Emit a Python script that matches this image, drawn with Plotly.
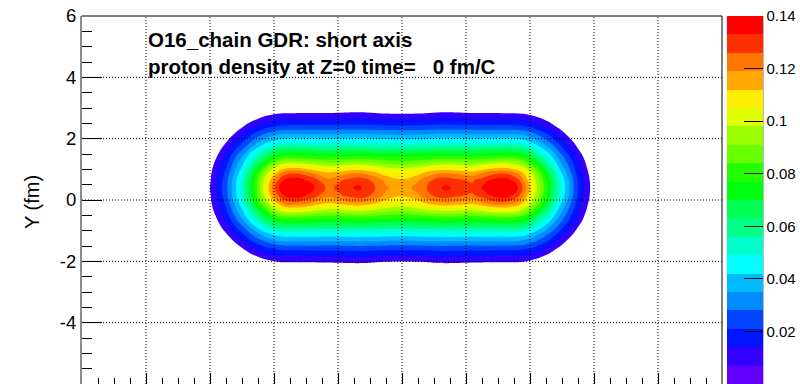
import plotly.graph_objects as go

# ---------------- data ----------------
# x positions (fm) of the sampled columns
X = [-7.0, -6.5, -6.0, -5.5, -5.0, -4.5, -4.0, -3.7, -3.35, -3.0, -2.65, -2.3,
     -1.95, -1.65, -1.35, -1.0, -0.5, 0.0, 0.5, 1.0, 1.35, 1.65, 1.95, 2.2,
     2.5, 2.8, 3.1, 3.4, 3.7, 4.0, 4.5, 5.0, 5.5, 6.0, 6.5, 7.0]
# y positions (fm) of the sampled rows
Y = [-2.6, -2.1, -1.6, -1.1, -0.6, -0.1, 0.15, 0.4, 0.65, 0.9, 1.4, 1.9, 2.4, 2.9, 3.4]

# proton density read row by row (distance from chain axis y=0.4)
ROW_D0 = [-0.02, -0.008, 0.0072, 0.026, 0.051, 0.086, 0.125, 0.140, 0.146, 0.140, 0.131, 0.124,
          0.128, 0.132, 0.1345, 0.129, 0.120, 0.116, 0.121, 0.130, 0.1345, 0.132, 0.129, 0.128,
          0.134, 0.141, 0.146, 0.142, 0.130, 0.112, 0.080, 0.047, 0.021, 0.0025, -0.012, -0.02]
ROW_D025 = [-0.02, -0.009, 0.006, 0.025, 0.0505, 0.085, 0.120, 0.133, 0.137, 0.133, 0.127, 0.121,
            0.125, 0.128, 0.130, 0.126, 0.117, 0.113, 0.118, 0.127, 0.130, 0.128, 0.126, 0.125,
            0.129, 0.134, 0.137, 0.134, 0.125, 0.108, 0.078, 0.046, 0.0205, 0.002, -0.012, -0.02]
ROW_D05 = [-0.02, -0.011, 0.0052, 0.0228, 0.0463, 0.079, 0.108, 0.121, 0.124, 0.121, 0.116, 0.112,
           0.114, 0.117, 0.118, 0.115, 0.108, 0.105, 0.109, 0.116, 0.118, 0.117, 0.115, 0.114,
           0.118, 0.122, 0.124, 0.122, 0.115, 0.101, 0.073, 0.041, 0.018, 0.0008, -0.013, -0.02]
ROW_D1 = [-0.02, -0.015, 0.0003, 0.0162, 0.035, 0.0561, 0.075, 0.0806, 0.081, 0.0802, 0.079, 0.078,
          0.0786, 0.0791, 0.0795, 0.0787, 0.0775, 0.077, 0.0777, 0.0789, 0.0795, 0.0791, 0.0787, 0.0786,
          0.0794, 0.0803, 0.081, 0.081, 0.0788, 0.0711, 0.0499, 0.0297, 0.0122, -0.0038, -0.019, -0.02]
ROW_D15 = [-0.02, -0.02, -0.0072, 0.0065, 0.0199, 0.034, 0.0441, 0.0467, 0.047, 0.047, 0.0468, 0.0465,
           0.0467, 0.0469, 0.047, 0.0468, 0.0463, 0.046, 0.0463, 0.0468, 0.047, 0.0469, 0.0467, 0.0466,
           0.0468, 0.047, 0.047, 0.047, 0.0459, 0.0421, 0.0305, 0.0166, 0.0029, -0.011, -0.02, -0.02]
ROW_D2 = [-0.02, -0.02, -0.017, -0.0047, 0.006, 0.0151, 0.0208, 0.0224, 0.0225, 0.0226, 0.0226, 0.0226,
          0.0228, 0.023, 0.0231, 0.0228, 0.0222, 0.022, 0.0222, 0.0228, 0.0231, 0.023, 0.0228, 0.0226,
          0.0226, 0.0226, 0.0225, 0.0225, 0.0219, 0.0197, 0.0132, 0.0033, -0.0077, -0.02, -0.02, -0.02]
ROW_D25 = [-0.02, -0.02, -0.02, -0.017, -0.008, -0.001, 0.0033, 0.0044, 0.0045, 0.0046, 0.0047, 0.0048,
           0.0052, 0.0055, 0.0056, 0.0052, 0.0040, 0.0035, 0.0040, 0.0052, 0.0056, 0.0055, 0.0052, 0.0048,
           0.0047, 0.0046, 0.0045, 0.0045, 0.0041, 0.0025, -0.0026, -0.0103, -0.019, -0.02, -0.02, -0.02]
ROW_D3 = [-0.02, -0.02, -0.02, -0.02, -0.02, -0.018, -0.014, -0.012, -0.012, -0.012, -0.012, -0.012,
          -0.012, -0.012, -0.012, -0.012, -0.012, -0.012, -0.012, -0.012, -0.012, -0.012, -0.012, -0.012,
          -0.012, -0.012, -0.012, -0.012, -0.012, -0.014, -0.018, -0.02, -0.02, -0.02, -0.02, -0.02]

Z = [ROW_D3, ROW_D25, ROW_D2, ROW_D15, ROW_D1, ROW_D05, ROW_D025, ROW_D0,
     ROW_D025, ROW_D05, ROW_D1, ROW_D15, ROW_D2, ROW_D25, ROW_D3]

# colour levels (20 bands from 0 to 0.14) of the palette
Z_MIN, Z_MAX, Z_STEP = 0.0, 0.14, 0.007
BAND_COLORS = ["#6200ff", "#3300ff", "#0014ff", "#0044ff", "#008bff", "#00bbff", "#00fffc",
               "#00ffcc", "#00ff85", "#00ff55", "#00ff0e", "#22ff00", "#69ff00", "#99ff00",
               "#e0ff00", "#ffee00", "#ffa700", "#ff7700", "#ff3000", "#ff0000"]

CB_TICKS = [0, 0.02, 0.04, 0.06, 0.08, 0.1, 0.12, 0.14]
CB_TICK_TEXT = ["0", "0.02", "0.04", "0.06", "0.08", "0.1", "0.12", "0.14"]
X_TICKS = [-10, -8, -6, -4, -2, 0, 2, 4, 6, 8, 10]
Y_TICKS = [-6, -4, -2, 0, 2, 4, 6]
Y_TICK_TEXT = ["-6", "-4", "-2", "0", "2", "4", "6"]
X_RANGE = [-10, 10]
Y_RANGE = [-6, 6]

TITLE_1 = "O16_chain GDR: short axis"
TITLE_2 = "proton density at Z=0 time=\u00a0\u00a0\u00a00 fm/C"
Y_TITLE = "Y (fm)"

FONT = "Liberation Sans, Arial, Helvetica, sans-serif"
nb = len(BAND_COLORS)

# fill colourscale: below the first visible level is white (no density drawn)
fill_scale = [[0.0, "#ffffff"]]
for k in range(1, nb):
    fill_scale.append([k / nb, BAND_COLORS[k]])
fill_scale.append([1.0, BAND_COLORS[-1]])

# stepped colourscale for the palette bar
bar_scale = []
for k, c in enumerate(BAND_COLORS):
    bar_scale.append([k / nb, c])
    bar_scale.append([(k + 1) / nb, c])

fig = go.Figure()

fig.add_trace(go.Contour(
    x=X, y=Y, z=Z,
    autocontour=False,
    contours=dict(start=Z_STEP, end=Z_MAX, size=Z_STEP, coloring="fill", showlines=False),
    line=dict(width=0, smoothing=1.3),
    colorscale=fill_scale,
    showscale=False,
    hoverinfo="skip",
))

CB_LEFT_PX, CB_WIDTH_PX = 727, 36
PLOT_LEFT_PX, PLOT_WIDTH_PX = 82, 640

# invisible trace that only carries the palette bar
fig.add_trace(go.Heatmap(
    x=[X_RANGE[1] + 40, X_RANGE[1] + 41], y=[Y_RANGE[1] + 40, Y_RANGE[1] + 41],
    z=[[Z_MIN, Z_MAX], [Z_MIN, Z_MAX]],
    zmin=Z_MIN, zmax=Z_MAX,
    colorscale=bar_scale,
    hoverinfo="skip",
    colorbar=dict(
        x=(CB_LEFT_PX - PLOT_LEFT_PX) / PLOT_WIDTH_PX, xanchor="left", xpad=0,
        y=0.5, yanchor="middle", ypad=0,
        len=1, lenmode="fraction",
        thickness=CB_WIDTH_PX, thicknessmode="pixels",
        outlinewidth=0,
        tickmode="array", tickvals=CB_TICKS, ticktext=CB_TICK_TEXT,
        ticks="inside", ticklen=19, tickwidth=1, tickcolor="black",
        tickfont=dict(family=FONT, size=15, color="black"),
    ),
))

shapes = []
for gx in X_TICKS[1:-1]:
    shapes.append(dict(type="line", xref="x", yref="y", x0=gx, x1=gx, y0=Y_RANGE[0], y1=Y_RANGE[1],
                       line=dict(color="black", width=1, dash="1px,2px"), layer="above"))
for gy in Y_TICKS[1:-1]:
    shapes.append(dict(type="line", xref="x", yref="y", x0=X_RANGE[0], x1=X_RANGE[1], y0=gy, y1=gy,
                       line=dict(color="black", width=1, dash="1px,2px"), layer="above"))
# frame: top and right edges
shapes.append(dict(type="line", xref="paper", yref="paper", x0=0, x1=1, y0=1, y1=1,
                   line=dict(color="black", width=1), layer="above"))
shapes.append(dict(type="line", xref="paper", yref="paper", x0=1, x1=1, y0=0, y1=1,
                   line=dict(color="black", width=1), layer="above"))
# palette axis line on the right side of the colour bar
cb_right = (CB_LEFT_PX + CB_WIDTH_PX - PLOT_LEFT_PX) / PLOT_WIDTH_PX
shapes.append(dict(type="line", xref="paper", yref="paper", x0=cb_right, x1=cb_right, y0=0, y1=1,
                   line=dict(color="#777777", width=1), layer="above"))

annotations = [
    dict(text="<b>" + TITLE_1 + "</b>", xref="paper", yref="paper", x=(146 - 82) / 640,
         y=(384 - 40) / 368, xanchor="left", yanchor="middle", showarrow=False,
         font=dict(family=FONT, size=20.5, color="black")),
    dict(text="<b>" + TITLE_2 + "</b>", xref="paper", yref="paper", x=(146 - 82) / 640,
         y=(384 - 66) / 368, xanchor="left", yanchor="middle", showarrow=False,
         font=dict(family=FONT, size=20.5, color="black")),
    dict(text=Y_TITLE, xref="paper", yref="paper", x=(32 - 82) / 640, y=(384 - 202) / 368,
         xanchor="center", yanchor="middle", textangle=-90, showarrow=False,
         font=dict(family=FONT, size=20, color="black")),
]

fig.update_layout(
    template="none",
    width=800, height=384,
    margin=dict(l=82, r=78, t=16, b=0, autoexpand=False),
    paper_bgcolor="white", plot_bgcolor="white",
    showlegend=False,
    font=dict(family=FONT, color="black"),
    xaxis=dict(
        range=X_RANGE, autorange=False, showgrid=False, zeroline=False,
        showline=False, showticklabels=False, automargin=False,
        tickmode="array", tickvals=X_TICKS,
        ticks="inside", ticklen=11, tickwidth=1, tickcolor="black",
        minor=dict(tickmode="linear", tick0=0, dtick=0.5, ticks="inside", ticklen=6,
                   tickwidth=1, tickcolor="black", showgrid=False),
    ),
    yaxis=dict(
        range=Y_RANGE, autorange=False, showgrid=False, zeroline=False,
        showline=True, linecolor="#8c8c8c", linewidth=2, automargin=False,
        tickmode="array", tickvals=Y_TICKS, ticktext=Y_TICK_TEXT,
        ticks="inside", ticklen=20, tickwidth=1, tickcolor="black",
        tickfont=dict(family=FONT, size=18.5, color="black"),
        minor=dict(tickmode="linear", tick0=0, dtick=0.5, ticks="inside", ticklen=10,
                   tickwidth=1, tickcolor="black", showgrid=False),
    ),
    shapes=shapes,
    annotations=annotations,
)

fig.write_html(
    "out.html",
    config={"displayModeBar": False, "staticPlot": True},
    post_script="document.body.style.margin='0px';document.body.style.overflow='hidden';",
)
